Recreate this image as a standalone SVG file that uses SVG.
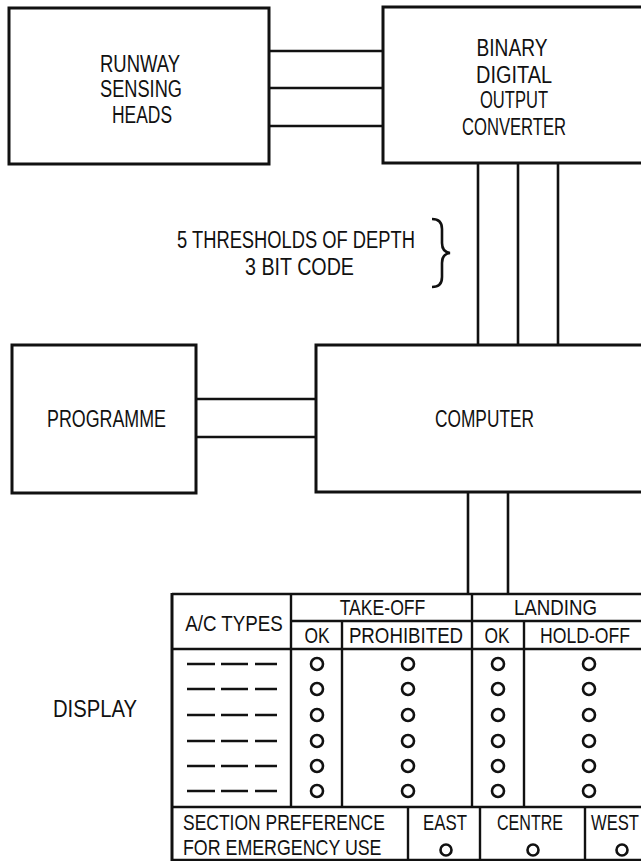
<svg xmlns="http://www.w3.org/2000/svg" width="641" height="861" viewBox="0 0 641 861">
<style>
.box{fill:none;stroke:#111;stroke-width:3}
.ln{fill:none;stroke:#111;stroke-width:2.6}
.tb{fill:none;stroke:#111;stroke-width:2.4}
.t{font-family:"Liberation Sans",Arial,sans-serif;font-size:23px;fill:#111;text-anchor:middle}
.tt{font-family:"Liberation Sans",Arial,sans-serif;font-size:22px;fill:#111;text-anchor:middle}
.ts{font-family:"Liberation Sans",Arial,sans-serif;font-size:22px;fill:#111}
.c{fill:none;stroke:#111;stroke-width:2.6}
.d{stroke:#111;stroke-width:2.6}
</style>
<rect width="641" height="861" fill="#fff"/>

<g id="connectors">
  <line class="ln" x1="269" y1="51" x2="383" y2="51"/>
  <line class="ln" x1="269" y1="88" x2="383" y2="88"/>
  <line class="ln" x1="269" y1="126" x2="383" y2="126"/>
  <line class="ln" x1="478" y1="163" x2="478" y2="345"/>
  <line class="ln" x1="518" y1="163" x2="518" y2="345"/>
  <line class="ln" x1="558" y1="163" x2="558" y2="345"/>
  <line class="ln" x1="196" y1="399" x2="316" y2="399"/>
  <line class="ln" x1="196" y1="437" x2="316" y2="437"/>
  <line class="ln" x1="468" y1="492" x2="468" y2="594"/>
  <line class="ln" x1="508" y1="492" x2="508" y2="594"/>
</g>

<g id="runway-sensing-heads">
  <rect class="box" x="9" y="8" width="260" height="156"/>
  <text class="t" x="140" y="72" textLength="80" lengthAdjust="spacingAndGlyphs">RUNWAY</text>
  <text class="t" x="141" y="97" textLength="82" lengthAdjust="spacingAndGlyphs">SENSING</text>
  <text class="t" x="142" y="123" textLength="60" lengthAdjust="spacingAndGlyphs">HEADS</text>
</g>

<g id="binary-digital-output-converter">
  <rect class="box" x="383" y="7" width="280" height="156"/>
  <text class="t" x="512" y="56" textLength="71" lengthAdjust="spacingAndGlyphs">BINARY</text>
  <text class="t" x="514" y="83" textLength="76" lengthAdjust="spacingAndGlyphs">DIGITAL</text>
  <text class="t" x="514" y="108" textLength="68" lengthAdjust="spacingAndGlyphs">OUTPUT</text>
  <text class="t" x="514" y="135" textLength="104" lengthAdjust="spacingAndGlyphs">CONVERTER</text>
</g>

<g id="threshold-note">
  <text class="t" x="296" y="248" textLength="238" lengthAdjust="spacingAndGlyphs">5 THRESHOLDS OF DEPTH</text>
  <text class="t" x="299.5" y="275" textLength="109" lengthAdjust="spacingAndGlyphs">3 BIT CODE</text>
  <path class="ln" d="M432,219 Q442,219 442,229 L442,243 Q442,252 450,253 Q442,254 442,263 L442,277 Q442,287 432,287"/>
</g>

<g id="programme">
  <rect class="box" x="12" y="345" width="184" height="148"/>
  <text class="t" x="106.5" y="427" textLength="119" lengthAdjust="spacingAndGlyphs">PROGRAMME</text>
</g>

<g id="computer">
  <rect class="box" x="316" y="345" width="347" height="147"/>
  <text class="t" x="484.5" y="427" textLength="99" lengthAdjust="spacingAndGlyphs">COMPUTER</text>
</g>

<g id="display-label">
  <text class="t" x="95" y="717" textLength="84" lengthAdjust="spacingAndGlyphs">DISPLAY</text>
</g>

<g id="display-table">
  <line class="box" x1="172" y1="593" x2="172" y2="861"/>
  <line class="tb" x1="172" y1="594" x2="645" y2="594"/>
  <line class="tb" x1="291" y1="594" x2="291" y2="807"/>
  <line class="tb" x1="472" y1="594" x2="472" y2="807"/>
  <line class="tb" x1="291" y1="621" x2="645" y2="621"/>
  <line class="tb" x1="172" y1="649" x2="645" y2="649"/>
  <line class="tb" x1="342" y1="621" x2="342" y2="807"/>
  <line class="tb" x1="524" y1="621" x2="524" y2="807"/>
  <line class="tb" x1="172" y1="807" x2="645" y2="807"/>
  <line class="tb" x1="408" y1="807" x2="408" y2="861"/>
  <line class="tb" x1="480" y1="807" x2="480" y2="861"/>
  <line class="tb" x1="585" y1="807" x2="585" y2="861"/>
  <line class="tb" x1="172" y1="860" x2="645" y2="860"/>

  <text class="tt" transform="translate(234,631) scale(0.853,1)">A/C TYPES</text>
  <text class="tt" transform="translate(382.5,615) scale(0.8,1)">TAKE-OFF</text>
  <text class="tt" transform="translate(555.5,615) scale(0.85,1)">LANDING</text>
  <text class="tt" transform="translate(317,643) scale(0.79,1)">OK</text>
  <text class="tt" transform="translate(406,643) scale(0.85,1)">PROHIBITED</text>
  <text class="tt" transform="translate(497,643) scale(0.79,1)">OK</text>
  <text class="tt" transform="translate(585,643) scale(0.8,1)">HOLD-OFF</text>

  <g id="rows">
    <g class="d">
      <path d="M187,664H215M221,664H248M255,664H277"/>
      <path d="M187,689H215M221,689H248M255,689H277"/>
      <path d="M187,715H215M221,715H248M255,715H277"/>
      <path d="M187,741H215M221,741H248M255,741H277"/>
      <path d="M187,766H215M221,766H248M255,766H277"/>
      <path d="M187,791H215M221,791H248M255,791H277"/>
    </g>
    <g class="c">
      <circle cx="317" cy="664" r="6"/><circle cx="408" cy="664" r="6"/><circle cx="498" cy="664" r="6"/><circle cx="589" cy="664" r="6"/>
      <circle cx="317" cy="689" r="6"/><circle cx="408" cy="689" r="6"/><circle cx="498" cy="689" r="6"/><circle cx="589" cy="689" r="6"/>
      <circle cx="317" cy="715" r="6"/><circle cx="408" cy="715" r="6"/><circle cx="498" cy="715" r="6"/><circle cx="589" cy="715" r="6"/>
      <circle cx="317" cy="741" r="6"/><circle cx="408" cy="741" r="6"/><circle cx="498" cy="741" r="6"/><circle cx="589" cy="741" r="6"/>
      <circle cx="317" cy="766" r="6"/><circle cx="408" cy="766" r="6"/><circle cx="498" cy="766" r="6"/><circle cx="589" cy="766" r="6"/>
      <circle cx="317" cy="791" r="6"/><circle cx="408" cy="791" r="6"/><circle cx="498" cy="791" r="6"/><circle cx="589" cy="791" r="6"/>
    </g>
  </g>

  <text class="ts" transform="translate(183,830) scale(0.794,1)">SECTION PREFERENCE</text>
  <text class="ts" transform="translate(183,855) scale(0.81,1)">FOR EMERGENCY USE</text>
  <text class="tt" transform="translate(445,830) scale(0.765,1)">EAST</text>
  <text class="tt" transform="translate(530,830) scale(0.73,1)">CENTRE</text>
  <text class="ts" transform="translate(591,830) scale(0.755,1)">WEST</text>
  <g class="c">
    <circle cx="446" cy="850" r="5.5"/>
    <circle cx="533" cy="850" r="5.5"/>
    <circle cx="622" cy="850" r="5.5"/>
  </g>
</g>
</svg>
